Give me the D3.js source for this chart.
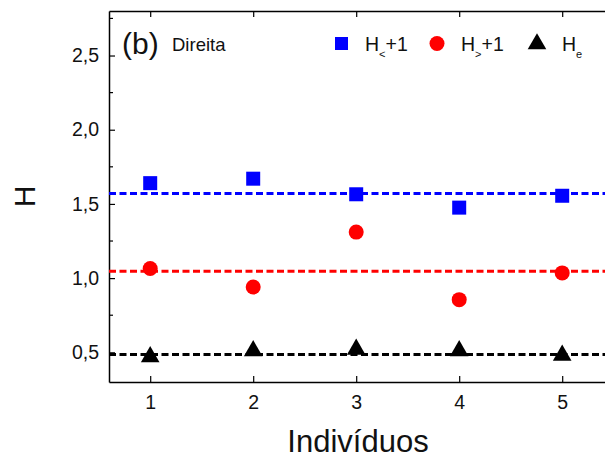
<!DOCTYPE html>
<html>
<head>
<meta charset="utf-8">
<script src="https://cdn.jsdelivr.net/npm/d3@7"></script>
<style>
  body { margin: 0; background: #fff; }
  svg { font-family: Arial, "Liberation Sans", sans-serif; }
</style>
</head>
<body>
<div id="chart"></div>
<script>
const individuos = [1, 2, 3, 4, 5]
const hMenor = [1.64, 1.67, 1.565, 1.475, 1.555]
const hMaior = [1.065, 0.94, 1.31, 0.855, 1.035]
const hE = [0.47, 0.51, 0.52, 0.51, 0.48]
const medias = [1.57, 1.047, 0.486]
const yTicks = [0.5, 1.0, 1.5, 2.0, 2.5]

const width = 605, height = 465
const xMin = 0.6, xMax = 5.48

const svg = d3.select('#chart').append('svg')
  .attr('width', width)
  .attr('height', height)

const x = d3.scaleLinear().domain([xMin, xMax]).range([109, 109 + (xMax - xMin) * 103])
const y = d3.scaleLinear().domain([0.3, 2.8]).range([382, 11])

const fmt = d => d3.format('.1f')(d).replace('.', ',')

// axes (ticks inward)
const axB = svg.append('g').attr('transform', `translate(0,${y(0.3)})`)
  .call(d3.axisBottom(x).tickValues(individuos).tickFormat(d3.format('d')).tickSizeInner(-6).tickSizeOuter(0).tickPadding(13))
const axT = svg.append('g').attr('transform', `translate(0,${y(2.8)})`)
  .call(d3.axisTop(x).tickValues(individuos).tickSizeInner(-6).tickSizeOuter(0).tickFormat(''))
const axL = svg.append('g').attr('transform', `translate(${x(xMin)},0)`)
  .call(d3.axisLeft(y).tickValues(yTicks).tickFormat(fmt).tickSizeInner(-6).tickSizeOuter(0).tickPadding(10))
const axR = svg.append('g').attr('transform', `translate(${x(xMax)},0)`)
  .call(d3.axisRight(y).tickValues(yTicks).tickSizeInner(-6).tickSizeOuter(0).tickFormat(''))

// minor ticks
const minor = [0.75, 1.25, 1.75, 2.25, 2.75]
svg.append('g').selectAll('line').data(minor).enter().append('line')
  .attr('x1', x(xMin)).attr('x2', x(xMin) + 4)
  .attr('y1', d => y(d)).attr('y2', d => y(d))
  .attr('stroke', '#000').attr('stroke-width', 1.2)

;[axB, axT, axL, axR].forEach(g => {
  g.select('.domain').attr('stroke', '#000').attr('stroke-width', 1.5)
  g.selectAll('.tick line').attr('stroke', '#000').attr('stroke-width', 1.2)
  g.selectAll('text').attr('font-size', 19.5).attr('fill', '#111')
    .attr('font-family', 'Arial, "Liberation Sans", sans-serif')
})

// dashed mean lines
const cores = ['#0000ff', '#ff0000', '#000000']
svg.append('g').selectAll('line').data(medias).enter().append('line')
  .attr('x1', x(xMin)).attr('x2', x(xMax))
  .attr('y1', d => y(d)).attr('y2', d => y(d))
  .attr('stroke', (d, i) => cores[i])
  .attr('stroke-width', 3)
  .attr('stroke-dasharray', '7,3.5')

// points
svg.append('g').selectAll('rect').data(hMenor).enter().append('rect')
  .attr('x', (d, i) => x(individuos[i]) - 7)
  .attr('y', d => y(d) - 7)
  .attr('width', 14).attr('height', 14)
  .attr('fill', '#0000ff')

svg.append('g').selectAll('circle').data(hMaior).enter().append('circle')
  .attr('cx', (d, i) => x(individuos[i]))
  .attr('cy', d => y(d))
  .attr('r', 7.5)
  .attr('fill', '#ff0000')

const tri = d3.symbol().type(d3.symbolTriangle).size(150)
svg.append('g').selectAll('path').data(hE).enter().append('path')
  .attr('d', tri)
  .attr('transform', (d, i) => `translate(${x(individuos[i])},${y(d)})`)
  .attr('fill', '#000')

// panel label
svg.append('text').attr('x', 122).attr('y', 54).attr('font-size', 30).attr('fill', '#111').text('(b)')
svg.append('text').attr('x', 172).attr('y', 51).attr('font-size', 18.5).attr('fill', '#111').text('Direita')

// legend
const leg = svg.append('g')
leg.append('rect').attr('x', 335).attr('y', 37).attr('width', 13).attr('height', 13).attr('fill', '#0000ff')
leg.append('circle').attr('cx', 437).attr('cy', 43.5).attr('r', 7.5).attr('fill', '#ff0000')
leg.append('path').attr('d', tri).attr('transform', 'translate(537,44)').attr('fill', '#000')

const legText = [
  { x: 365, main: 'H', sub: '<', tail: '+1' },
  { x: 461, main: 'H', sub: '>', tail: '+1' },
  { x: 562, main: 'H', sub: 'e', tail: '' }
]
legText.forEach(t => {
  const tx = leg.append('text').attr('x', t.x).attr('y', 51).attr('font-size', 19.5).attr('fill', '#111')
  tx.append('tspan').text(t.main)
  tx.append('tspan').attr('font-size', 11).attr('dy', 7).text(t.sub)
  if (t.tail) tx.append('tspan').attr('dy', -7).text(t.tail)
})

// axis titles
svg.append('text')
  .attr('x', 358).attr('y', 452)
  .attr('text-anchor', 'middle').attr('font-size', 31).attr('fill', '#111')
  .text('Indivíduos')

svg.append('text')
  .attr('transform', `translate(35,${y(1.55)}) rotate(-90)`)
  .attr('text-anchor', 'middle').attr('font-size', 30).attr('fill', '#111')
  .text('H')
</script>
</body>
</html>
